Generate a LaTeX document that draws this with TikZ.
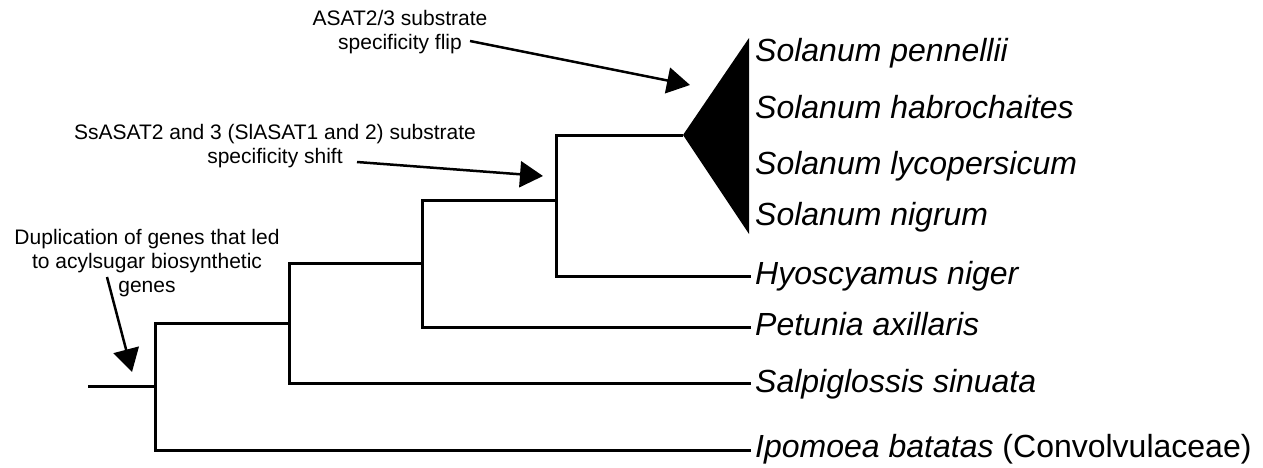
\documentclass[tikz,border=0pt]{standalone}
\usepackage{fontspec}
\setmainfont{Liberation Sans}
\usetikzlibrary{arrows.meta}
\begin{document}
\begin{tikzpicture}[x=1pt,y=-1pt,
  branch/.style={line width=3pt},
  note/.style={font=\fontsize{21}{24}\selectfont, align=center, inner sep=0pt},
  taxon/.style={font=\fontsize{32}{36}\selectfont\itshape, anchor=base west, inner sep=0pt},
  pointer/.style={line width=2.5pt, -{Triangle[length=23pt,width=26pt]}}]
\useasboundingbox (0,0) rectangle (1263,467);

% taxa labels
\node[taxon] (pen) at (755,61) {Solanum pennellii};
\node[taxon] (hab) at (755,118) {Solanum habrochaites};
\node[taxon] (lyc) at (755,174) {Solanum lycopersicum};
\node[taxon] (nig) at (755,225) {Solanum nigrum};
\node[taxon] (hyo) at (755,284) {Hyoscyamus niger};
\node[taxon] (pet) at (755,335) {Petunia axillaris};
\node[taxon] (sal) at (755,392) {Salpiglossis sinuata};
\node[taxon] (ipo) at (755,457) {Ipomoea batatas \upshape(Convolvulaceae)};

% tree coordinates
\coordinate (root) at (88,386);
\coordinate (n0) at (155,386);
\coordinate (n1) at (289,323);
\coordinate (n2) at (422,263);
\coordinate (n3) at (556,200);
\coordinate (apex) at (683,135);
\coordinate (ttop) at (749,38);
\coordinate (tbot) at (749,234);
\coordinate (hyoEnd) at (751,276);
\coordinate (petEnd) at (751,327);
\coordinate (salEnd) at (751,383);
\coordinate (ipoEnd) at (751,450);

\draw[branch] (root) -- (n0);
\draw[branch] (n1) -- (155,323) -- (155,450) -- (ipoEnd);
\draw[branch] (n2) -- (289,263) -- (289,383) -- (salEnd);
\draw[branch] (n3) -- (422,200) -- (422,327) -- (petEnd);
\draw[branch] (apex) -- (556,135) -- (556,276) -- (hyoEnd);
\fill (apex) -- (ttop) -- (tbot) -- cycle;

% annotations
\node[note] (flip) at (400,32) {ASAT2/3 substrate\\specificity flip};
\node[note] (shift) at (275,146) {SsASAT2 and 3 (SlASAT1 and 2) substrate\\specificity shift};
\node[note] (dup) at (147,263) {Duplication of genes that led\\to acylsugar biosynthetic\\genes};

\coordinate (flipS) at (470,41);
\coordinate (flipT) at (690,85);
\coordinate (shiftS) at (357,162);
\coordinate (shiftT) at (543,176);
\coordinate (dupS) at (107,277);
\coordinate (dupT) at (132,372);

\draw[pointer] (flipS) -- (flipT);
\draw[pointer] (shiftS) -- (shiftT);
\draw[pointer] (dupS) -- (dupT);
\end{tikzpicture}
\end{document}
